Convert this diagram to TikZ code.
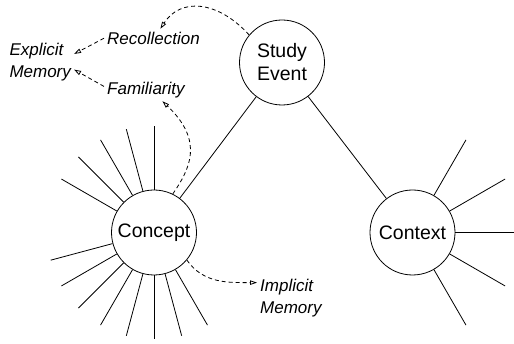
\documentclass[tikz,border=0pt]{standalone}
\usepackage{fontspec}
\setmainfont{Liberation Sans}
\usetikzlibrary{arrows.meta,positioning}

\begin{document}
\begin{tikzpicture}[x=1pt,y=1pt]

        % Setup the styles for the items
        \tikzset{item style/.style={circle, draw,
                                    line width=0.8pt,
                                    minimum size=85pt,
                                    inner sep=0pt,
                                    align=center,
                                    font=\fontsize{19.5}{23}\selectfont},
                 tag style/.style={inner sep=3pt,
                                   align=left,
                                   font=\fontsize{17}{22}\selectfont\itshape},
                 link style/.style={line width=0.8pt,
                                    dash pattern=on 4pt off 3pt,
                                    -{Triangle[open,length=7pt,width=4.5pt]}}}
        \useasboundingbox (0,0) rectangle (514,-344);

        % Draw the items
        \node[item style] at (282,-62.5)    (study)   {Study\\Event};
        \node[item style] at (154,-232.5)   (concept) {Concept};
        \node[item style] at (412.5,-232.5) (context) {Context};

        % Draw the labels
        \node[tag style, anchor=base west]  at (104,-44.3)   (recol) {Recollection};
        \node[tag style, anchor=base west]  at (104,-94.5)   (famil) {Familiarity};
        \node[tag style, anchor=north west] at (6.3,-40.3)   (expl)  {Explicit\\Memory};
        \node[tag style, anchor=north west] at (257,-276.3)  (impl)  {Implicit\\Memory};

        % Draw the features round concept and context
        \foreach \a in {90,105,...,150,195,210,...,300}
            \draw[line width=0.8pt] (concept.\a) -- ++(\a:64);
        \foreach \a/\l in {60/64,30/64,0/59,-30/64,-60/64}
            \draw[line width=0.8pt] (context.\a) -- ++(\a:\l);

        % Connect the items
        \draw[line width=0.8pt]
            (study) edge (concept)
            (study) edge (context);

        % Dashed links to the memories
        \draw[link style] (study.140) .. controls +(-32,35) and +(20,31) .. (recol.54);
        \draw[link style] (recol.west) -- (expl.14);
        \draw[link style] (famil.175) -- (expl.-12);
        \draw[link style] (concept.64) .. controls +(17,25) and +(42,-40) .. (famil.-34);
        \draw[link style] (concept.-40) to[out=-55,in=180] (impl.155);
%        \draw[link style] (concept) -- (context);
\end{tikzpicture}
\end{document}
